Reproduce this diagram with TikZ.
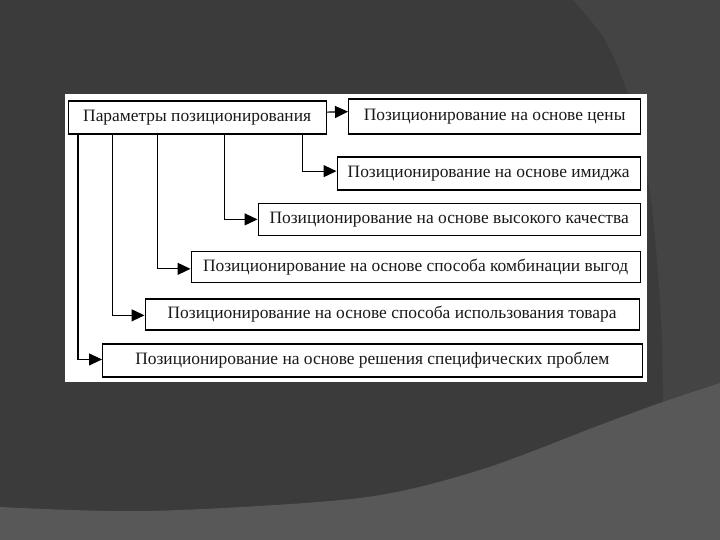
\documentclass[tikz,border=0pt]{standalone}
\usepackage{fontspec}
\setmainfont{Liberation Serif}
\usetikzlibrary{arrows.meta}
\definecolor{bgmain}{HTML}{3B3B3B}
\definecolor{bgright}{HTML}{444444}
\definecolor{bgbottom}{HTML}{585858}
\tikzset{
  box/.style={draw=black, line width=1.3pt, fill=white, anchor=north west, inner sep=0pt,
    font=\fontsize{17.4}{20}\selectfont, text=black!90},
  arr/.style={draw=black, line width=1.2pt, -{Triangle[length=13pt,width=12pt]}},
}
\begin{document}
\begin{tikzpicture}[x=1pt,y=-1pt]
\useasboundingbox (0,0) rectangle (720,540);
% background
\fill[bgmain] (0,0) rectangle (720,540);
\fill[bgright] plot[smooth] coordinates {(573,0) (605,40) (630,100) (648,180) (657,260) (662,340) (663,420)} -- (663,540) -- (720,540) -- (720,0) -- cycle;
\fill[bgbottom] plot[smooth] coordinates {(0,507) (150,511) (360,498) (480,470) (600,425) (660,403) (720,383)} -- (720,540) -- (0,540) -- cycle;
% white panel
\fill[white] (65,94) rectangle (647,382);
% boxes
\node[box, minimum width=258pt, minimum height=33pt] (p) at (67.5,100.5) {Параметры позиционирования};
\node[box, minimum width=292pt, minimum height=35pt] (b1) at (348,98.5) {Позиционирование на основе цены};
\node[box, minimum width=303pt, minimum height=33pt] (b2) at (336.5,156.5) {Позиционирование на основе имиджа};
\node[box, minimum width=382pt, minimum height=31.5pt] (b3) at (257.5,203) {Позиционирование на основе высокого качества};
\node[box, minimum width=449pt, minimum height=31pt] (b4) at (190.5,250.7) {Позиционирование на основе способа комбинации выгод};
\node[box, minimum width=494pt, minimum height=31pt] (b5) at (144.5,298.2) {Позиционирование на основе способа использования товара};
\node[box, minimum width=539.5pt, minimum height=33pt] (b6) at (102,343.3) {Позиционирование на основе решения специфических проблем};
% connectors
\draw[arr] ([yshift=5.5pt]p.east) -- ([yshift=5pt]b1.west);
\draw[arr] ([xshift=235pt]p.south west) |- ([yshift=2.5pt]b2.west);
\draw[arr] ([xshift=157pt]p.south west) |- (b3.west);
\draw[arr] ([xshift=90pt]p.south west) |- ([yshift=-2pt]b4.west);
\draw[arr] ([xshift=45pt]p.south west) |- ([yshift=-1pt]b5.west);
\draw[arr] ([xshift=10.5pt]p.south west) |- ([yshift=1pt]b6.west);
\end{tikzpicture}
\end{document}
